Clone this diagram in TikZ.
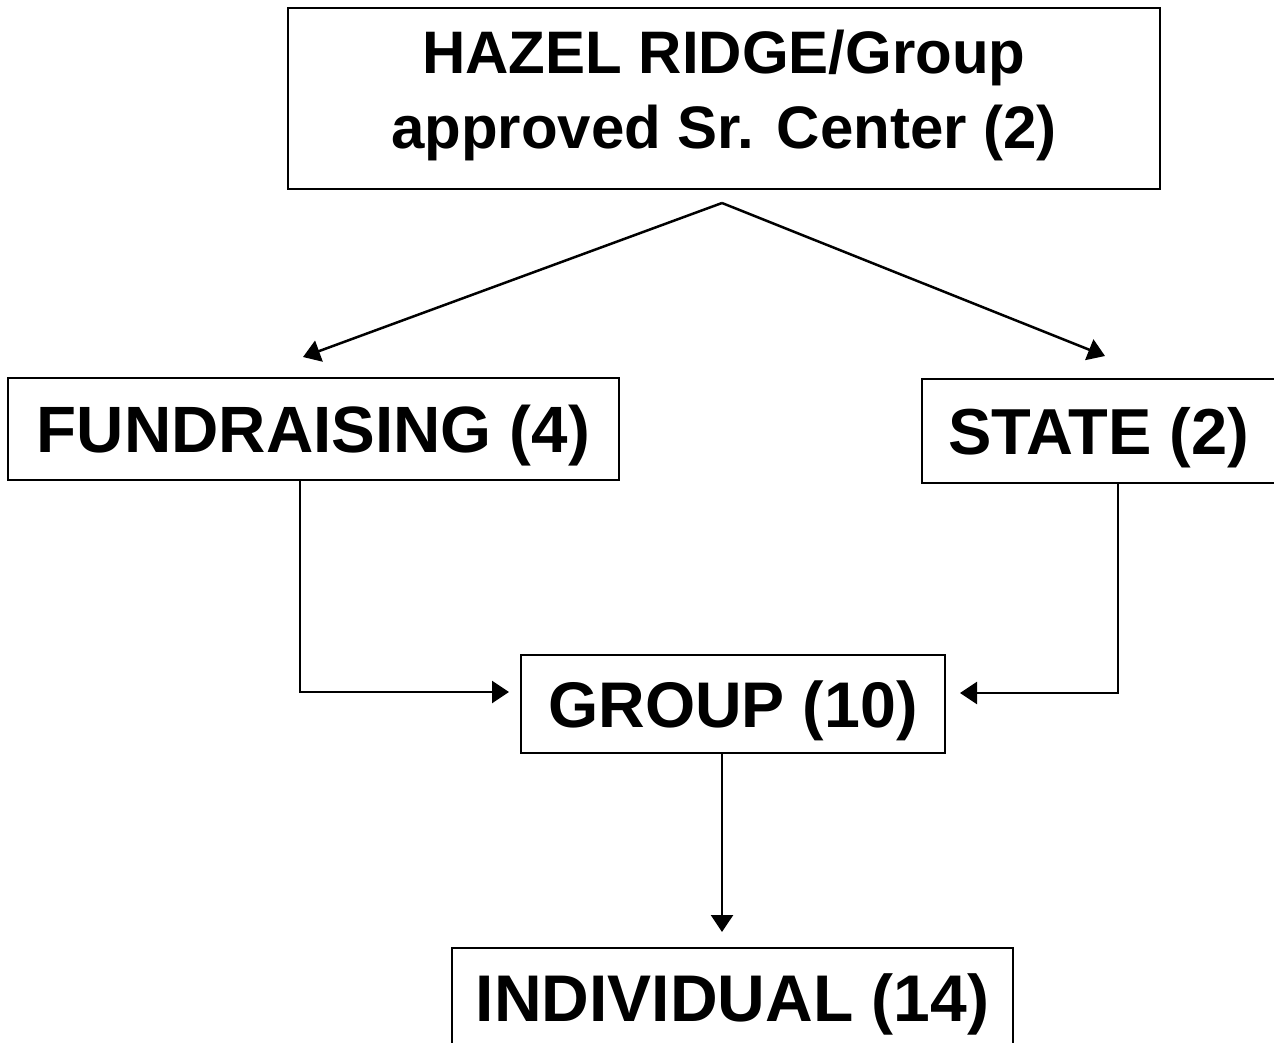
\documentclass[tikz,border=0pt]{standalone}
\usepackage{fontspec}
\setmainfont{Liberation Sans}
\usetikzlibrary{arrows.meta}
\newcommand\fsz[2]{\fontsize{#1}{#2}\selectfont\bfseries}
\begin{document}
\begin{tikzpicture}[x=1pt,y=-1pt,
  box/.style={draw=black, line width=2.5pt, inner sep=0pt, text depth=0pt, anchor=center},
  conn/.style={draw=black, line width=2.5pt, -{Triangle[length=17pt,width=22pt]}}]
\useasboundingbox (0,0) rectangle (1274,1042);
\fill[white] (0,0) rectangle (1274,1042);

\node[box, minimum width=872pt, minimum height=181pt, text height=42pt, text depth=93pt,
  font=\fsz{60}{75}] (top) at (724,98.5)
  {\begin{tabular}[t]{@{}c@{}}HAZEL RIDGE/Group\\approved Sr. Center (2)\end{tabular}};

\node[box, minimum width=611pt, minimum height=102pt, text height=47pt, font=\fsz{65.5}{78}]
  (fund) at (313.5,429) {FUNDRAISING (4)};
\node[box, minimum width=353pt, minimum height=104pt, text height=46pt, font=\fsz{65}{78}]
  (state) at (1098.5,431) {STATE (2)};
\node[box, minimum width=424pt, minimum height=98pt, text height=46pt, font=\fsz{64.5}{78}]
  (group) at (733,704) {GROUP (10)};
\node[box, minimum width=561pt, minimum height=99pt, text height=47pt, font=\fsz{66}{78}]
  (indiv) at (732.5,997.5) {INDIVIDUAL (14)};

\coordinate (split) at (722,203);
\coordinate (tipL) at (303,357);
\coordinate (tipR) at (1105,356);
\coordinate (gL) at (509,692);
\coordinate (gR) at (960,693);
\coordinate (tipD) at (722,932);

\draw[conn] (split) -- (tipL);
\draw[conn] (split) -- (tipR);
\draw[conn] ([xshift=-13.5pt]fund.south) |- (gL);
\draw[conn] ([xshift=19.5pt]state.south) |- (gR);
\draw[conn] (group.south -| split) -- (tipD);
\end{tikzpicture}
\end{document}
